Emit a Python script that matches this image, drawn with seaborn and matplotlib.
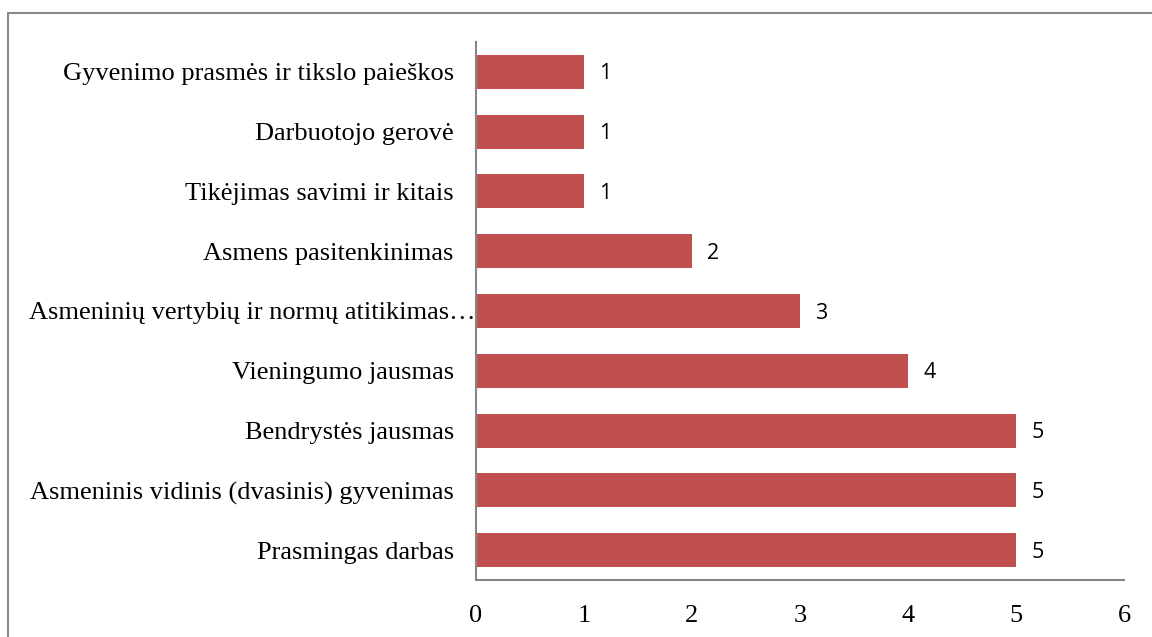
import matplotlib
matplotlib.use("Agg")
import matplotlib.pyplot as plt
import matplotlib.transforms as mtransforms
import seaborn as sns
import pandas as pd

categories = [
    "Gyvenimo prasmės ir tikslo paieškos",
    "Darbuotojo gerovė",
    "Tikėjimas savimi ir kitais",
    "Asmens pasitenkinimas",
    "Asmeninių vertybių ir normų atitikimas…",
    "Vieningumo jausmas",
    "Bendrystės jausmas",
    "Asmeninis vidinis (dvasinis) gyvenimas",
    "Prasmingas darbas",
]
values = [1, 1, 1, 2, 3, 4, 5, 5, 5]
x_ticks = [0, 1, 2, 3, 4, 5, 6]

df = pd.DataFrame({"category": categories, "value": values})

sns.set_theme(style="white")
plt.rcParams["font.family"] = ["Liberation Serif", "DejaVu Serif"]

fig = plt.figure(figsize=(11.52, 6.37), dpi=100)
W, H = 1152, 637
ax = fig.add_axes([476 / W, 1 - 580 / H, (1124 - 476) / W, (580 - 42) / H])

sns.barplot(data=df, y="category", x="value", orient="h", color="#C0504D",
            saturation=1, width=0.57, ax=ax, edgecolor="none")

ax.set_xlim(0, 6)
ax.set_xticks(x_ticks)
ax.set_xticklabels([str(t) for t in x_ticks], fontsize=19)
ax.set_xlabel("")
ax.set_ylabel("")
ax.tick_params(axis="x", length=0, pad=18)
ax.tick_params(axis="y", length=0, pad=16, labelsize=19)
for lab in ax.get_yticklabels():
    lab.set_fontsize(19)
    lab.set_color("black")
    if lab.get_text().endswith("…"):
        lab.set_transform(lab.get_transform() + mtransforms.ScaledTranslation(22 / 100, 0, fig.dpi_scale_trans))
for lab in ax.get_xticklabels():
    lab.set_color("black")

for s in ["top", "right"]:
    ax.spines[s].set_visible(False)
for s in ["left", "bottom"]:
    ax.spines[s].set_color("#868686")
    ax.spines[s].set_linewidth(1.5)
ax.grid(False)

for i, v in enumerate(values):
    ax.annotate(str(v), xy=(v, i), xytext=(11, -1.5), textcoords="offset points",
                ha="left", va="center", fontsize=15.5,
                family=["Open Sans", "DejaVu Sans"], color="black")

border = plt.Rectangle((8 / W, -0.1), 1.2, 1 - 13 / H + 0.1, transform=fig.transFigure,
                       fill=False, edgecolor="#888888", linewidth=1.5, clip_on=False)
fig.patches.append(border)

fig.savefig("out.png", dpi=100)
